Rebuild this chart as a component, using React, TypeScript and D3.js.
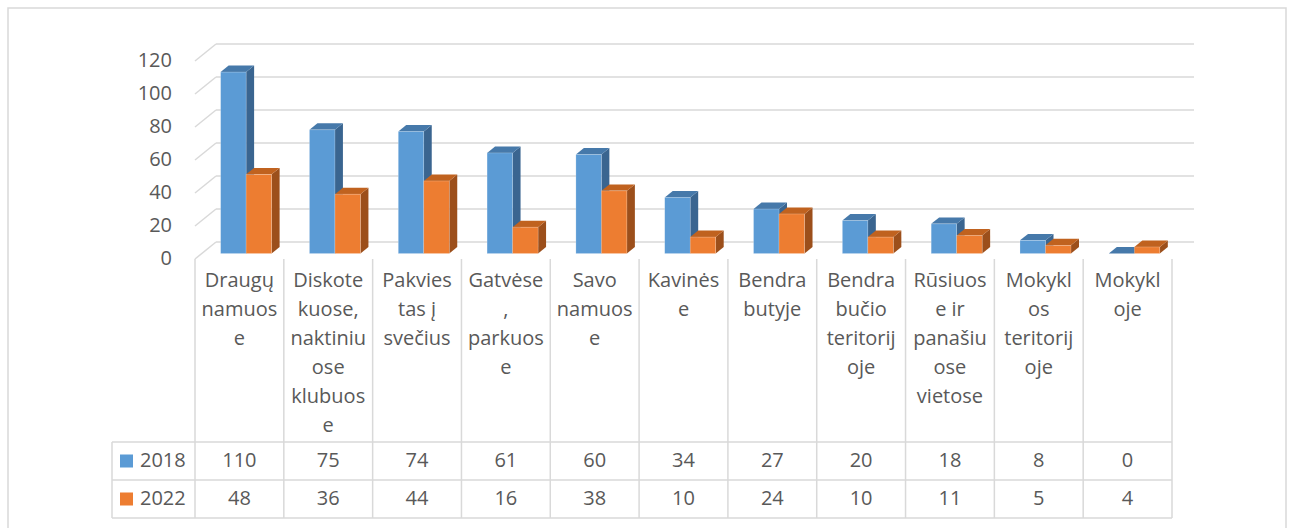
import React from 'react';
import * as d3 from 'd3';

// category labels as wrapped in the chart's data table
const categories = [
  'Draugų namuose',
  'Diskotekuose, naktiniuose klubuose',
  'Pakviestas į svečius',
  'Gatvėse, parkuose',
  'Savo namuose',
  'Kavinėse',
  'Bendrabutyje',
  'Bendrabučio teritorijoje',
  'Rūsiuose ir panašiuose vietose',
  'Mokyklos teritorijoje',
  'Mokykloje',
];
const categoryLines = [
  ['Draugų', 'namuos', 'e'],
  ['Diskote', 'kuose,', 'naktiniu', 'ose', 'klubuos', 'e'],
  ['Pakvies', 'tas į', 'svečius'],
  ['Gatvėse', ',', 'parkuos', 'e'],
  ['Savo', 'namuos', 'e'],
  ['Kavinės', 'e'],
  ['Bendra', 'butyje'],
  ['Bendra', 'bučio', 'teritorij', 'oje'],
  ['Rūsiuos', 'e ir', 'panašiu', 'ose', 'vietose'],
  ['Mokykl', 'os', 'teritorij', 'oje'],
  ['Mokykl', 'oje'],
];
const seriesNames = ['2018', '2022'];
const values2018 = [110, 75, 74, 61, 60, 34, 27, 20, 18, 8, 0];
const values2022 = [48, 36, 44, 16, 38, 10, 24, 10, 11, 5, 4];
const yTicks = [0, 20, 40, 60, 80, 100, 120];

const seriesValues = [values2018, values2022];
const colors = [
  { front: '#5B9BD5', top: '#4679AA', side: '#3A6590' },
  { front: '#ED7D31', top: '#C0621F', side: '#9C4F1B' },
];

const W = 1291;
const H = 528;
const FONT = '"Open Sans", sans-serif';
const TEXT = '#595959';
const GRID = '#D9D9D9';

// 3D geometry
const DX = 21;
const DY = -17;
const barT0 = 0.32;
const barT1 = 0.7;

const App: React.FC = () => {
  const x = d3.scaleBand<string>().domain(categories).range([195, 1172]).paddingInner(0).paddingOuter(0);
  const y = d3.scaleLinear().domain([0, 120]).range([259, 61]);
  const inner = d3.scaleBand<string>().domain(seriesNames).range([-25.5, 25.5]);

  const rowTop = 442;
  const rowH = 38;
  const tableBottom = rowTop + rowH * 2;
  const colW = x.bandwidth();

  const fx0 = DX * barT0, fy0 = DY * barT0;
  const dbx = DX * (barT1 - barT0), dby = DY * (barT1 - barT0);

  const bars: React.ReactNode[] = [];
  categories.forEach((c, i) => {
    seriesNames.forEach((s, si) => {
      const v = seriesValues[si][i];
      const xl = (x(c) as number) + colW / 2 + (inner(s) as number) + fx0;
      const xr = xl + inner.bandwidth();
      const yb = y(0) + fy0;
      const yt = y(v) + fy0;
      const col = colors[si];
      const key = `${c}-${s}`;
      bars.push(
        <g key={key}>
          {v > 0 && (
            <polygon
              points={`${xr},${yb} ${xr + dbx},${yb + dby} ${xr + dbx},${yt + dby} ${xr},${yt}`}
              fill={col.side}
            />
          )}
          <polygon
            points={`${xl},${yt} ${xl + dbx},${yt + dby} ${xr + dbx},${yt + dby} ${xr},${yt}`}
            fill={col.top}
          />
          {v > 0 && (
            <rect x={xl} y={yt} width={xr - xl} height={yb - yt} fill={col.front} stroke="rgba(255,255,255,0.35)" strokeWidth={0.6} />
          )}
        </g>
      );
    });
  });

  return (
    <svg width={W} height={H} style={{ position: 'absolute', left: 0, top: 0 }} fontFamily={FONT}>
      <rect x={8} y={8} width={1278} height={540} fill="#fff" stroke={GRID} strokeWidth={1.5} />

      {/* walls: back gridlines and left side diagonals */}
      {yTicks.map((t) => (
        <g key={`g${t}`}>
          <line x1={195} y1={y(t)} x2={195 + DX} y2={y(t) + DY} stroke={GRID} strokeWidth={1.5} />
          <line x1={195 + DX} y1={y(t) + DY} x2={1172 + DX + 1} y2={y(t) + DY} stroke={GRID} strokeWidth={1.5} />
          <text x={172} y={y(t) + 1} textAnchor="end" dominantBaseline="middle" fontSize={20} fill={TEXT}>
            {t}
          </text>
        </g>
      ))}

      {bars}

      {/* data table */}
      {d3.range(categories.length + 1).map((i) => (
        <line key={`v${i}`} x1={195 + i * colW} y1={259} x2={195 + i * colW} y2={tableBottom} stroke={GRID} strokeWidth={1.5} />
      ))}
      <line x1={112} y1={rowTop} x2={112} y2={tableBottom} stroke={GRID} strokeWidth={1.5} />
      {[0, 1, 2].map((r) => (
        <line key={`h${r}`} x1={112} y1={rowTop + r * rowH} x2={1172} y2={rowTop + r * rowH} stroke={GRID} strokeWidth={1.5} />
      ))}

      {categories.map((c, i) => (
        <text key={`l${c}`} x={(x(c) as number) + colW / 2} textAnchor="middle" fontSize={20} fill={TEXT}>
          {categoryLines[i].map((ln, li) => (
            <tspan key={li} x={(x(c) as number) + colW / 2} y={282 + li * 29} dominantBaseline="middle">
              {ln}
            </tspan>
          ))}
        </text>
      ))}

      {seriesNames.map((s, si) => {
        const cy = rowTop + rowH * si + rowH / 2;
        return (
          <g key={`row${s}`}>
            <rect x={120} y={cy - 6.5} width={13} height={13} fill={colors[si].front} />
            <text x={140} y={cy + 1} dominantBaseline="middle" fontSize={20} fill={TEXT}>
              {s}
            </text>
            {categories.map((c, i) => (
              <text
                key={`${s}${c}`}
                x={(x(c) as number) + colW / 2}
                y={cy + 1}
                textAnchor="middle"
                dominantBaseline="middle"
                fontSize={20}
                fill={TEXT}
              >
                {seriesValues[si][i]}
              </text>
            ))}
          </g>
        );
      })}
    </svg>
  );
};

export default App;
